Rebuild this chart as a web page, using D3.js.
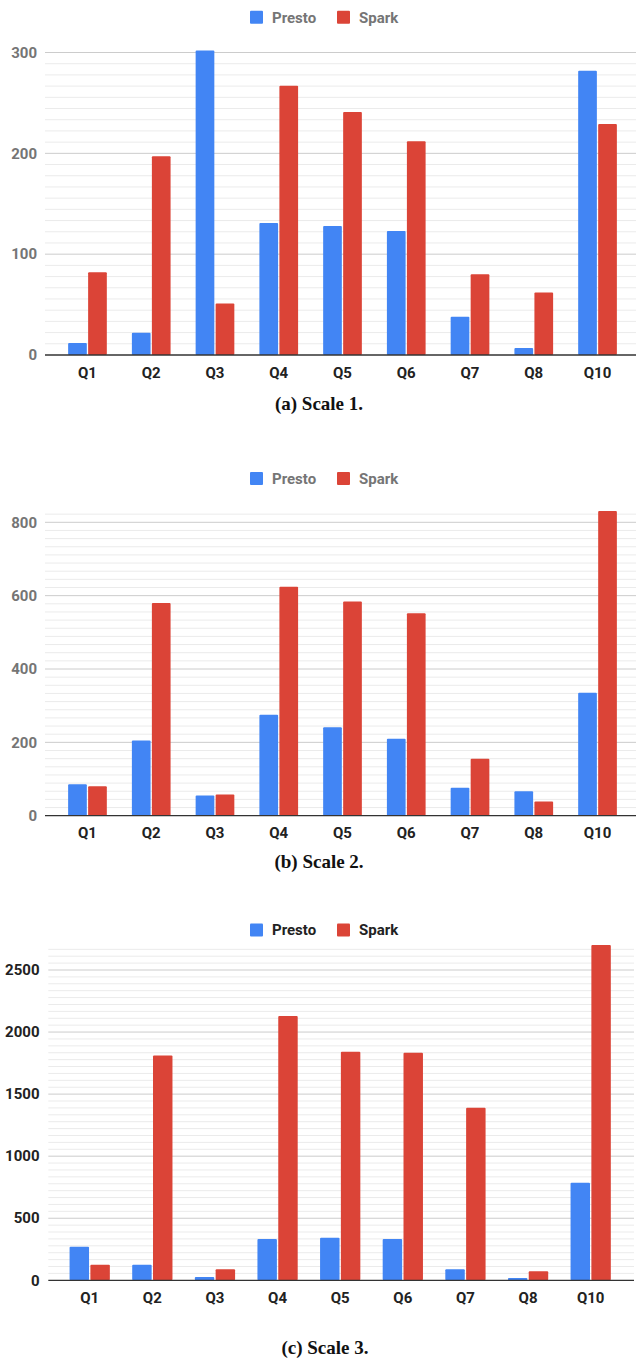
<!DOCTYPE html>
<html>
<head>
<meta charset="utf-8">
<script src="https://cdn.jsdelivr.net/npm/d3@7"></script>
<style>
html,body{margin:0;padding:0;background:#fff;}
svg{display:block;}
</style>
</head>
<body>
<svg id="chart" width="636" height="1367"></svg>
<script>
const categories = ["Q1","Q2","Q3","Q4","Q5","Q6","Q7","Q8","Q10"];
const seriesNames = ["Presto","Spark"];
const seriesColors = ["#4285F4","#DB4437"];

const presto1 = [12, 22, 302, 131, 128, 123, 38, 7, 282];
const spark1  = [82, 197, 51, 267, 241, 212, 80, 62, 229];
const ticks1  = [0, 100, 200, 300];

const presto2 = [86, 205, 55, 275, 241, 210, 76, 67, 335];
const spark2  = [80, 580, 58, 624, 584, 552, 155, 39, 831];
const ticks2  = [0, 200, 400, 600, 800];

const presto3 = [271, 126, 27, 333, 343, 333, 89, 19, 786];
const spark3  = [126, 1812, 89, 2129, 1842, 1834, 1391, 72, 2701];
const ticks3  = [0, 500, 1000, 1500, 2000, 2500];

const captions = ["(a) Scale 1.", "(b) Scale 2.", "(c) Scale 3."];

const panels = [
  {presto: presto1, spark: spark1, ticks: ticks1, minorAbove: 0,
   y0: 355, yTop: 52.5, xr: [55.6, 629.4], gx: [45, 636], group: 0.607,
   legendY: 17.3, labelY: 373, capY: 403, capX: 319, tickColor: "#757575", legColor: "#757575", tickX: 37, caption: captions[0]},
  {presto: presto2, spark: spark2, ticks: ticks2, minorAbove: 1,
   y0: 815.7, yTop: 522.3, xr: [55.6, 629.4], gx: [45, 636], group: 0.607,
   legendY: 478.6, labelY: 833, capY: 861, capX: 319, tickColor: "#757575", legColor: "#757575", tickX: 37, caption: captions[1]},
  {presto: presto3, spark: spark3, ticks: ticks3, minorAbove: 3,
   y0: 1280.3, yTop: 970, xr: [58.4, 622], gx: [48.3, 634], group: 0.643,
   legendY: 930, labelY: 1298, capY: 1347, capX: 325, tickColor: "#222", legColor: "#222", tickX: 39.5, caption: captions[2]}
];

const svg = d3.select("#chart");

panels.forEach((p) => {
  const g = svg.append("g");
  const maxTick = p.ticks[p.ticks.length - 1];
  const majorStep = p.ticks[1] - p.ticks[0];
  const minorStep = majorStep / 9;
  const y = d3.scaleLinear().domain([0, maxTick]).range([p.y0, p.yTop]);
  const x = d3.scaleBand().domain(categories).range(p.xr).paddingInner(0).paddingOuter(0);
  const gw = x.bandwidth() * p.group;
  const x1 = d3.scaleBand().domain(seriesNames).range([0, gw]).paddingInner(0.065);

  // minor gridlines
  const minors = [];
  for (let i = 0; i < p.ticks.length - 1; i++) {
    for (let k = 1; k < 9; k++) minors.push(p.ticks[i] + k * minorStep);
  }
  for (let k = 1; k <= p.minorAbove; k++) minors.push(maxTick + k * minorStep);
  g.selectAll("line.minor").data(minors).enter().append("line")
    .attr("x1", p.gx[0]).attr("x2", p.gx[1])
    .attr("y1", d => y(d)).attr("y2", d => y(d))
    .attr("stroke", "#ebebeb").attr("stroke-width", 1);

  // major gridlines
  g.selectAll("line.major").data(p.ticks.slice(1)).enter().append("line")
    .attr("x1", p.gx[0]).attr("x2", p.gx[1])
    .attr("y1", d => y(d)).attr("y2", d => y(d))
    .attr("stroke", "#cccccc").attr("stroke-width", 1);

  // y tick labels
  g.selectAll("text.ytick").data(p.ticks).enter().append("text")
    .attr("x", p.tickX).attr("y", d => y(d))
    .attr("dy", "0.35em").attr("text-anchor", "end")
    .attr("font-family", "Roboto, sans-serif").attr("font-weight", "bold")
    .attr("font-size", 15).attr("fill", p.tickColor)
    .text(d => d);

  // bars
  const rows = categories.map((c, i) => ({cat: c, vals: [p.presto[i], p.spark[i]]}));
  const grp = g.selectAll("g.cat").data(rows).enter().append("g")
    .attr("transform", d => `translate(${x(d.cat) + (x.bandwidth() - gw) / 2},0)`);
  grp.selectAll("rect").data(d => d.vals.map((v, j) => ({v, s: seriesNames[j], j})))
    .enter().append("rect")
    .attr("x", d => x1(d.s)).attr("width", x1.bandwidth())
    .attr("y", d => y(d.v)).attr("height", d => p.y0 - y(d.v))
    .attr("rx", 1)
    .attr("fill", d => seriesColors[d.j]);

  // baseline
  g.append("line").attr("x1", p.gx[0]).attr("x2", p.gx[1])
    .attr("y1", p.y0).attr("y2", p.y0)
    .attr("stroke", "#333").attr("stroke-width", 1.3);

  // x labels
  g.selectAll("text.xl").data(categories).enter().append("text")
    .attr("x", d => x(d) + x.bandwidth() / 2).attr("y", p.labelY)
    .attr("dy", "0.35em").attr("text-anchor", "middle")
    .attr("font-family", "Roboto, sans-serif").attr("font-weight", "bold")
    .attr("font-size", 15).attr("fill", "#222")
    .text(d => d);

  // legend
  const legX = [250, 337];
  seriesNames.forEach((s, j) => {
    g.append("rect").attr("x", legX[j]).attr("y", p.legendY - 6.5)
      .attr("width", 13).attr("height", 13).attr("rx", 1)
      .attr("fill", seriesColors[j]);
    g.append("text").attr("x", legX[j] + 22).attr("y", p.legendY)
      .attr("dy", "0.35em")
      .attr("font-family", "Roboto, sans-serif").attr("font-weight", "bold")
      .attr("font-size", 15).attr("fill", p.legColor)
      .text(s);
  });

  // caption
  g.append("text").attr("x", p.capX).attr("y", p.capY)
    .attr("dy", "0.35em").attr("text-anchor", "middle")
    .attr("font-family", "'Liberation Serif', 'DejaVu Serif', serif").attr("font-weight", "bold")
    .attr("font-size", 19).attr("fill", "#111")
    .text(p.caption);
});
</script>
</body>
</html>
